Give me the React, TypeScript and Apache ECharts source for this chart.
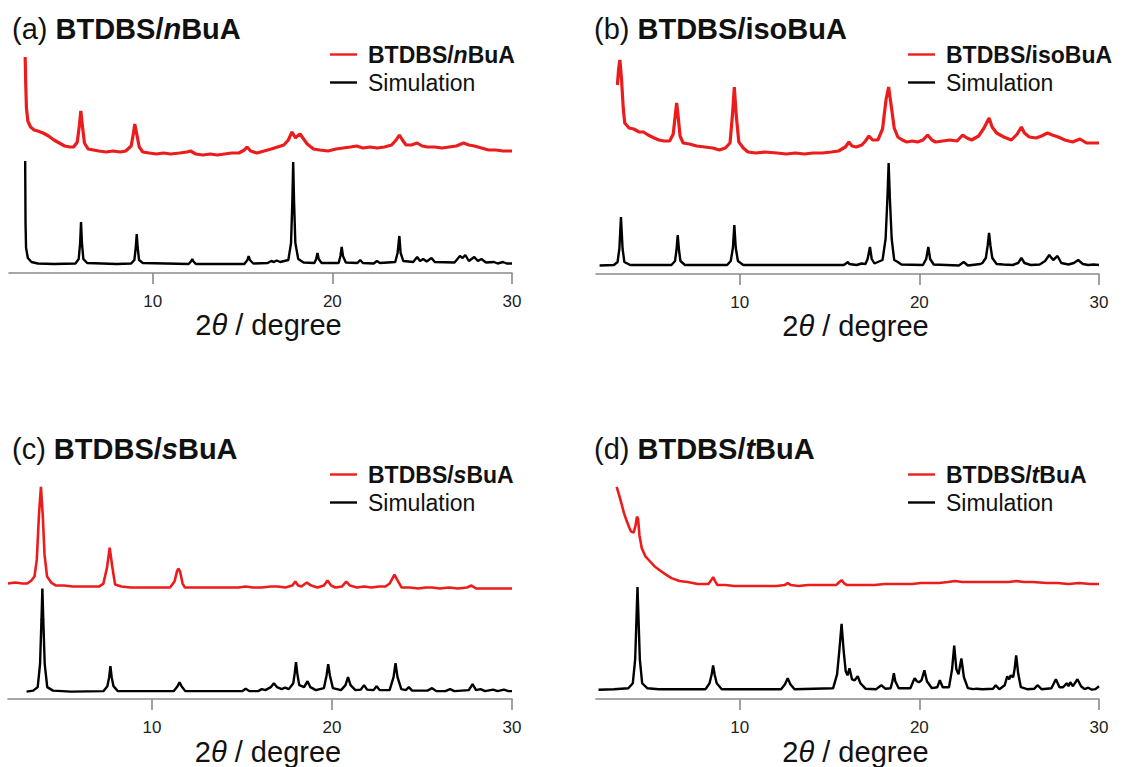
import React, { useEffect, useRef } from "react";
import * as echarts from "echarts";

// ---- data (2θ in degrees, intensity in arbitrary units) ----
const panelLetters = ["a", "b", "c", "d"];
const amineItalic = ["n", "", "s", "t"];
const amineRest = ["BuA", "isoBuA", "BuA", "BuA"];
const xTickValues = [10, 20, 30];
const xRange = [2, 30];

const simA = [
  [2.9, 112], [2.92, 50], [2.95, 25], [3.05, 15], [3.25, 11], [3.6, 9.5], [4.5, 9],
  [5.7, 9.5], [5.88, 14], [5.96, 30], [6.01, 51], [6.06, 30], [6.14, 14], [6.35, 10],
  [8.0, 9], [8.8, 9.5], [8.98, 13], [9.06, 26], [9.11, 39], [9.16, 26], [9.24, 13], [9.45, 10],
  [12.0, 9], [12.15, 12], [12.2, 14], [12.25, 12], [12.4, 9],
  [15.1, 9], [15.27, 13], [15.34, 17], [15.41, 13], [15.6, 9.5],
  [16.4, 10], [16.6, 12], [16.75, 11], [16.9, 12.5], [17.1, 11],
  [17.55, 13], [17.7, 30], [17.77, 70], [17.82, 111], [17.87, 70], [17.94, 30], [18.1, 14], [18.4, 10.5],
  [19.0, 10], [19.1, 14], [19.17, 20], [19.24, 14], [19.4, 10],
  [20.35, 10], [20.45, 17], [20.52, 26], [20.59, 17], [20.75, 10.5],
  [21.4, 10], [21.55, 13], [21.7, 10],
  [22.3, 9.5], [22.48, 12], [22.65, 10],
  [23.5, 11], [23.63, 20], [23.73, 37], [23.8, 20], [23.95, 12],
  [24.5, 11], [24.72, 16], [24.88, 12], [25.06, 14], [25.25, 11.5], [25.52, 15], [25.7, 11],
  [26.8, 10.5], [27.1, 17], [27.25, 15], [27.4, 18], [27.6, 12], [27.9, 16], [28.1, 12], [28.3, 14],
  [28.55, 10.5], [29.0, 11], [29.2, 9.5], [29.5, 11], [29.7, 9.5], [30, 9.5],
];

const expA = [
  [2.9, 216], [2.93, 190], [2.97, 165], [3.05, 152], [3.2, 146], [3.4, 143], [3.6, 142], [3.9, 140],
  [4.2, 137], [4.5, 133], [4.8, 130], [5.1, 127], [5.4, 126], [5.6, 126], [5.8, 131], [5.92, 148],
  [6.0, 162], [6.08, 148], [6.2, 130], [6.4, 124], [6.7, 123], [7.0, 122], [7.4, 121], [7.8, 122],
  [8.2, 121], [8.5, 122], [8.8, 127], [8.93, 140], [9.0, 149], [9.1, 140], [9.25, 126], [9.45, 121],
  [9.8, 120], [10.2, 119], [10.6, 120], [11.0, 119], [11.5, 120], [11.9, 121], [12.1, 122], [12.4, 119],
  [12.8, 118], [13.2, 119], [13.6, 118], [14.0, 119], [14.4, 120], [14.8, 120], [15.1, 123], [15.25, 126],
  [15.45, 122], [15.8, 120], [16.2, 122], [16.6, 124], [16.95, 126], [17.3, 128], [17.55, 133], [17.75, 141],
  [17.95, 135], [18.05, 137], [18.2, 139], [18.4, 134], [18.6, 129], [18.95, 124], [19.3, 123], [19.76, 122],
  [20.2, 124], [20.6, 125], [21.0, 126], [21.35, 127], [21.7, 125], [22.1, 126], [22.5, 125], [22.9, 126],
  [23.3, 128], [23.55, 133], [23.73, 138], [23.9, 133], [24.1, 128], [24.4, 128], [24.72, 130], [25.0, 127],
  [25.3, 126], [25.7, 126], [26.1, 125], [26.5, 126], [26.9, 127], [27.3, 130], [27.6, 128], [27.9, 127],
  [28.3, 125], [28.7, 123], [29.1, 123], [29.5, 122], [30, 122],
];

const simB = [
  [2.2, 8.5], [3.0, 9], [3.2, 12], [3.3, 25], [3.39, 57], [3.48, 25], [3.58, 12], [3.9, 9],
  [6.2, 9], [6.4, 13], [6.48, 24], [6.55, 39], [6.62, 24], [6.7, 13], [6.95, 9],
  [9.3, 9], [9.5, 13], [9.62, 26], [9.7, 49], [9.78, 26], [9.9, 13], [10.2, 9],
  [15.8, 9], [15.95, 11], [16.02, 12], [16.1, 10], [16.5, 9], [16.79, 10.5], [17.0, 10], [17.12, 15],
  [17.25, 27], [17.35, 15], [17.5, 10.5],
  [17.95, 14], [18.12, 35], [18.22, 75], [18.29, 111], [18.36, 75], [18.46, 35], [18.6, 14], [18.8, 12], [19.0, 9.5],
  [20.2, 9], [20.38, 15], [20.5, 27], [20.6, 15], [20.8, 9.5],
  [22.2, 8.5], [22.47, 12], [22.7, 8.5],
  [23.4, 10], [23.51, 11], [23.7, 16], [23.8, 28], [23.88, 41], [23.96, 28], [24.06, 16], [24.3, 10],
  [24.68, 9.5], [25.2, 9],
  [25.5, 11], [25.68, 16], [25.85, 11], [26.2, 9], [26.7, 9.5], [27.0, 13], [27.23, 19], [27.45, 14],
  [27.69, 18], [27.9, 11], [28.3, 9.5], [28.6, 11], [28.84, 14], [29.1, 10], [29.4, 9], [29.7, 9.5], [30, 9],
];

const expB = [
  [3.19, 189], [3.26, 205], [3.33, 214], [3.42, 195], [3.52, 165], [3.6, 151], [3.84, 146], [4.1, 145],
  [4.4, 142], [4.64, 142], [4.9, 139], [5.24, 136], [5.5, 134], [5.8, 133], [6.1, 133], [6.3, 140],
  [6.42, 160], [6.49, 171], [6.56, 160], [6.68, 138], [6.85, 131], [7.2, 130], [7.6, 128], [8.05, 127],
  [8.5, 126], [8.86, 124], [9.2, 126], [9.46, 131], [9.6, 160], [9.7, 187], [9.8, 160], [9.95, 132],
  [10.2, 126], [10.46, 122], [10.9, 121], [11.4, 122], [12.07, 121], [12.6, 120], [13.1, 121], [13.6, 120],
  [14.08, 121], [14.6, 121], [15.1, 122], [15.5, 123], [15.88, 127], [16.08, 132], [16.25, 128], [16.49, 127],
  [16.8, 129], [17.0, 133], [17.19, 138], [17.4, 134], [17.69, 134], [17.95, 145], [18.15, 175], [18.29, 187],
  [18.42, 170], [18.6, 146], [18.8, 137], [19.05, 134], [19.3, 132], [19.6, 133], [19.9, 132], [20.2, 134],
  [20.46, 139], [20.7, 134], [20.9, 132], [21.3, 133], [21.7, 134], [22.1, 133], [22.41, 139], [22.65, 136],
  [22.91, 134], [23.3, 138], [23.6, 146], [23.88, 156], [24.05, 147], [24.3, 141], [24.7, 137], [25.12, 134],
  [25.45, 140], [25.68, 147], [25.85, 141], [26.12, 137], [26.5, 136], [26.8, 138], [27.13, 141], [27.4, 139],
  [27.73, 137], [28.1, 134], [28.53, 132], [28.94, 135], [29.3, 131], [29.7, 131], [30, 131],
];

const simC = [
  [3.03, 7.5], [3.4, 8.5], [3.65, 12], [3.78, 35], [3.86, 80], [3.91, 111], [3.96, 80], [4.04, 35],
  [4.18, 12], [4.5, 8.5], [5.5, 7.5],
  [7.3, 8], [7.52, 13], [7.62, 22], [7.69, 33], [7.76, 22], [7.86, 13], [8.1, 8],
  [11.2, 8], [11.42, 13], [11.53, 17], [11.64, 13], [11.85, 8],
  [15.0, 8], [15.21, 10.5], [15.4, 8], [15.9, 8], [16.1, 10], [16.3, 9], [16.6, 12], [16.77, 16], [16.95, 12],
  [17.2, 10], [17.4, 11.5], [17.6, 10], [17.85, 16], [17.93, 26], [18.0, 37], [18.07, 26], [18.18, 14],
  [18.45, 12], [18.64, 18], [18.8, 12], [19.1, 9], [19.55, 11], [19.7, 24], [19.79, 35], [19.88, 24],
  [20.05, 11], [20.5, 9], [20.75, 14], [20.89, 22], [21.03, 14], [21.3, 9], [21.6, 9.5], [21.78, 14],
  [21.95, 9.5], [22.3, 9], [22.48, 13], [22.65, 9], [23.2, 9], [23.42, 22], [23.53, 36], [23.64, 22],
  [23.85, 10], [24.1, 9], [24.27, 12], [24.45, 8.5], [25.3, 8.5], [25.56, 11], [25.8, 8], [26.3, 8],
  [26.56, 10], [26.8, 8], [27.6, 9], [27.81, 15], [28.0, 9], [28.25, 10], [28.5, 8], [28.95, 9.5],
  [29.2, 8], [29.55, 9.5], [29.8, 8], [30, 8],
];

const expC = [
  [2.0, 116], [2.4, 117], [2.8, 116], [3.07, 116], [3.3, 119], [3.47, 123], [3.6, 140], [3.72, 185],
  [3.83, 213], [3.93, 185], [4.03, 145], [4.17, 123], [4.4, 117], [4.67, 114], [5.1, 114], [5.6, 113],
  [6.1, 113], [6.6, 113], [7.05, 113], [7.3, 116], [7.5, 132], [7.65, 152], [7.8, 132], [7.95, 115],
  [8.3, 113], [8.8, 112], [9.3, 112], [9.8, 112], [10.3, 112], [11.0, 112], [11.25, 118], [11.4, 129],
  [11.47, 131], [11.56, 128], [11.7, 116], [11.83, 112], [12.3, 112], [12.8, 112], [13.3, 112], [13.8, 112],
  [14.3, 112], [14.8, 112], [15.2, 113], [15.6, 112], [16.1, 112], [16.6, 113], [17.0, 113], [17.4, 112],
  [17.8, 114], [17.96, 118], [18.12, 114], [18.3, 113], [18.6, 117], [18.85, 114], [19.19, 112], [19.55, 114],
  [19.75, 119], [19.95, 114], [20.19, 112], [20.55, 113], [20.79, 118], [21.0, 114], [21.38, 112], [21.78, 113],
  [22.2, 112], [22.6, 113], [22.97, 113], [23.2, 116], [23.47, 125], [23.65, 119], [23.87, 112], [24.3, 112],
  [24.8, 111], [25.2, 112], [25.56, 112], [26.0, 111], [26.5, 112], [27.0, 111], [27.5, 112], [27.75, 114],
  [28.0, 111], [28.6, 111], [29.2, 111], [30, 111],
];

const simD = [
  [2.14, 9.5], [3.0, 10], [3.8, 11], [4.05, 16], [4.18, 40], [4.26, 85], [4.31, 113], [4.36, 85],
  [4.44, 40], [4.57, 16], [4.85, 11], [5.5, 10],
  [8.1, 10], [8.32, 16], [8.44, 25], [8.52, 34], [8.6, 25], [8.72, 16], [9.0, 10],
  [12.3, 10], [12.52, 15], [12.67, 21], [12.82, 15], [13.05, 10],
  [15.2, 11], [15.42, 25], [15.55, 50], [15.67, 76], [15.78, 50], [15.9, 28], [16.0, 24], [16.11, 31],
  [16.25, 20], [16.4, 19], [16.57, 23], [16.72, 16], [17.0, 10.5], [17.6, 10], [17.88, 14], [18.1, 10.5],
  [18.4, 11], [18.5, 18], [18.58, 26], [18.66, 18], [18.85, 11], [19.5, 11], [19.66, 18], [19.74, 21],
  [19.86, 18], [19.98, 17], [20.12, 19], [20.28, 29], [20.42, 18], [20.7, 11], [21.0, 12], [21.14, 19],
  [21.3, 12], [21.65, 12], [21.82, 30], [21.94, 54], [22.06, 30], [22.18, 25], [22.34, 41], [22.48, 22],
  [22.7, 11], [23.0, 10], [23.19, 10.5], [23.5, 10], [24.1, 10.5], [24.25, 14], [24.45, 10], [24.75, 14],
  [24.89, 23], [25.0, 20], [25.09, 24], [25.22, 22], [25.3, 30], [25.39, 44], [25.5, 26], [25.65, 12],
  [26.0, 10], [26.4, 10.5], [26.59, 14], [26.8, 10], [27.35, 11], [27.6, 20], [27.8, 12], [28.0, 12],
  [28.2, 16], [28.3, 13], [28.4, 17], [28.55, 13], [28.8, 20], [29.0, 13], [29.2, 10], [29.4, 11.5],
  [29.6, 9.5], [29.8, 10], [30, 13],
];

const expD = [
  [3.15, 214], [3.3, 205], [3.45, 195], [3.55, 188], [3.7, 180], [3.85, 173], [3.95, 169], [4.1, 168],
  [4.2, 175], [4.28, 184], [4.34, 182], [4.42, 165], [4.55, 152], [4.75, 144], [5.0, 139], [5.25, 134],
  [5.55, 130], [5.85, 126], [6.2, 122], [6.65, 119], [7.1, 118], [7.66, 116], [8.0, 116], [8.26, 116],
  [8.42, 120], [8.52, 123], [8.63, 119], [8.76, 115], [9.2, 115], [9.7, 114], [10.3, 114], [10.9, 114],
  [11.5, 114], [12.06, 114], [12.5, 115], [12.67, 117], [12.85, 115], [13.27, 114], [13.8, 115], [14.3, 115],
  [14.8, 115], [15.37, 115], [15.55, 118], [15.67, 120], [15.8, 117], [15.97, 115], [16.5, 115], [17.0, 115],
  [17.5, 115], [18.08, 116], [18.6, 116], [19.1, 116], [19.6, 116], [20.08, 117], [20.6, 117], [21.1, 117],
  [21.6, 118], [21.98, 119], [22.4, 118], [22.9, 118], [23.5, 118], [24.1, 118], [24.6, 118], [25.0, 118],
  [25.39, 119], [25.8, 118], [26.3, 118], [27.1, 117], [27.7, 117], [28.3, 116], [28.9, 117], [29.5, 116],
  [30, 116],
];

const simulations = [simA, simB, simC, simD];
const experiments = [expA, expB, expC, expD];

// ---- layout ----
const grids = [
  { left: 9, top: 43, width: 503, height: 230 },
  { left: 596, top: 44, width: 503, height: 230 },
  { left: 8, top: 470, width: 504, height: 230 },
  { left: 596, top: 471, width: 503, height: 230 },
];
const titlePos = [
  { left: 12, top: 13 },
  { left: 594, top: 13 },
  { left: 12, top: 433 },
  { left: 594, top: 433 },
];
const legendPos = [
  { left: 330, top: 43 },
  { left: 908, top: 43 },
  { left: 330, top: 463 },
  { left: 908, top: 463 },
];

const RED = "#ec1c1c";
const FONT = "'Liberation Sans', Arial, Helvetica, sans-serif";

const sampleName = (i: number) => "BTDBS/" + amineItalic[i] + amineRest[i];
const sampleRich = (i: number, boldKey: string, italKey: string) =>
  `{${boldKey}|BTDBS/}` + (amineItalic[i] ? `{${italKey}|${amineItalic[i]}}` : "") + `{${boldKey}|${amineRest[i]}}`;

export default function App() {
  const ref = useRef<HTMLDivElement>(null);

  useEffect(() => {
    if (!ref.current) return;
    const chart = echarts.init(ref.current, null, { renderer: "svg" });

    const titleFont = 29;
    const legendFont = 23;

    const option: any = {
      animation: false,
      backgroundColor: "#ffffff",
      textStyle: { fontFamily: FONT },
      title: panelLetters.map((L, i) => ({
        ...titlePos[i],
        padding: 0,
        text: `{p|(${L}) }` + sampleRich(i, "b", "bi"),
        textStyle: {
          fontFamily: FONT,
          rich: {
            p: { fontSize: titleFont, fontWeight: "normal", color: "#111", lineHeight: 32, fontFamily: FONT },
            b: { fontSize: titleFont, fontWeight: "bold", color: "#111", lineHeight: 32, fontFamily: FONT },
            bi: { fontSize: titleFont, fontWeight: "bold", fontStyle: "italic", color: "#111", lineHeight: 32, fontFamily: FONT },
          },
        },
      })),
      legend: panelLetters.map((L, i) => ({
        ...legendPos[i],
        orient: "vertical",
        padding: 0,
        itemGap: 5,
        itemWidth: 27,
        itemHeight: 2.4,
        icon: "rect",
        selectedMode: false,
        data: [sampleName(i), "Simulation"],
        formatter: (name: string) => (name === "Simulation" ? "{s|Simulation}" : sampleRich(i, "b", "bi")),
        textStyle: {
          fontFamily: FONT,
          padding: [0, 0, 0, 6],
          rich: {
            s: { fontSize: legendFont, color: "#111", lineHeight: 23, fontFamily: FONT },
            b: { fontSize: legendFont, fontWeight: "bold", color: "#111", lineHeight: 23, fontFamily: FONT },
            bi: { fontSize: legendFont, fontWeight: "bold", fontStyle: "italic", color: "#111", lineHeight: 23, fontFamily: FONT },
          },
        },
      })),
      grid: grids.map((g) => ({ ...g, containLabel: false })),
      xAxis: grids.map((_, i) => ({
        type: "value",
        gridIndex: i,
        min: xRange[0],
        max: xRange[1],
        splitLine: { show: false },
        axisLine: { show: true, onZero: false, lineStyle: { color: "#8a8a8a", width: 1.6 } },
        axisTick: { show: true, customValues: xTickValues, length: 11, lineStyle: { color: "#8a8a8a", width: 1.6 } },
        axisLabel: {
          show: true,
          customValues: xTickValues,
          margin: 20,
          fontSize: 17,
          color: "#222",
          fontFamily: FONT,
        },
        name: "{a|2}{i|θ}{a| / degree}",
        nameLocation: "middle",
        nameGap: 34,
        nameTextStyle: {
          padding: [0, 0, 0, 16],
          rich: {
            a: { fontSize: 29, color: "#111", fontFamily: FONT },
            i: { fontSize: 29, color: "#111", fontStyle: "italic", fontFamily: FONT },
          },
        },
      })),
      yAxis: grids.map((_, i) => ({
        type: "value",
        gridIndex: i,
        min: 0,
        max: 230,
        show: false,
        splitLine: { show: false },
      })),
      series: panelLetters.flatMap((L, i) => [
        {
          name: sampleName(i),
          type: "line",
          xAxisIndex: i,
          yAxisIndex: i,
          data: experiments[i],
          symbol: "none",
          showSymbol: false,
          color: RED,
          lineStyle: { color: RED, width: i < 2 ? 3.2 : 2.6 },
          z: 3,
        },
        {
          name: "Simulation",
          type: "line",
          xAxisIndex: i,
          yAxisIndex: i,
          data: simulations[i],
          symbol: "none",
          showSymbol: false,
          color: "#000",
          lineStyle: { color: "#000", width: 2.4 },
          z: 2,
        },
      ]),
    };

    chart.setOption(option);
    return () => chart.dispose();
  }, []);

  return (
    <div
      ref={ref}
      style={{ position: "absolute", left: 0, top: 0, width: 1126, height: 767, background: "#fff" }}
    />
  );
}
